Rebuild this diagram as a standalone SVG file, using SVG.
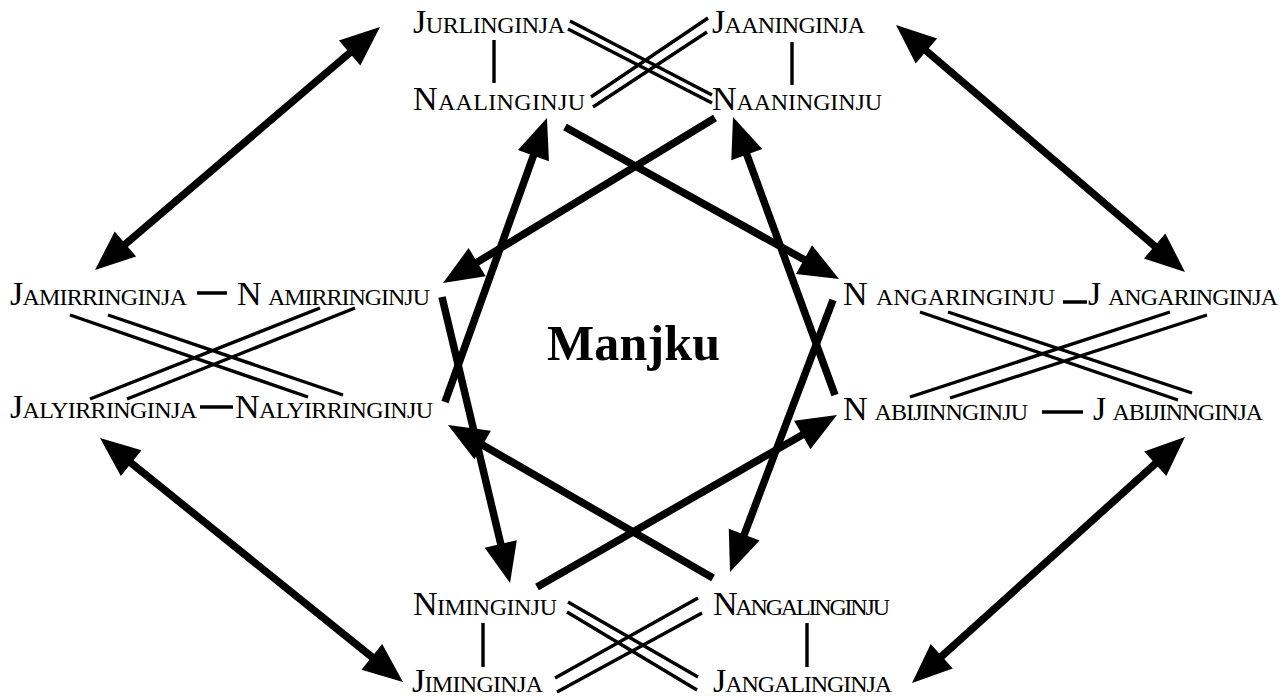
<svg xmlns="http://www.w3.org/2000/svg" width="1287" height="700" viewBox="0 0 1287 700">
<style>
.n{font-family:"Liberation Serif","Times New Roman",serif;font-size:34px;font-variant:small-caps;fill:#000}
.t{font-family:"Liberation Serif","Times New Roman",serif;font-size:50px;font-weight:bold;fill:#000}
.thin{stroke:#000;stroke-width:3.4;fill:none}
.arr{stroke:#000;stroke-width:7.5;fill:none;marker-end:url(#ah)}
.dbl{stroke:#000;stroke-width:7.5;fill:none;marker-start:url(#ah);marker-end:url(#ah)}
</style>
<defs>
<marker id="ah" markerUnits="userSpaceOnUse" markerWidth="40" markerHeight="33" refX="20" refY="16.5" orient="auto-start-reverse" overflow="visible">
<path d="M0,0 L40,16.5 L0,33 z" fill="#000"/>
</marker>
</defs>
<rect width="1287" height="700" fill="#fff"/>
<g id="connectors">
<path class="arr" d="M442,297 L505.4,563.5"/>
<path class="arr" d="M445,402 L540.2,136.8"/>
<path class="arr" d="M565,127 L821.5,269.3"/>
<path class="arr" d="M715,118 L460.1,272.6"/>
<path class="arr" d="M835,395 L739.9,135.8"/>
<path class="arr" d="M833,300 L737.1,553.3"/>
<path class="arr" d="M713,578 L465.3,435"/>
<path class="arr" d="M537,587 L819.6,425"/>
<path class="dbl" d="M110.2,257 L364.8,40"/>
<path class="dbl" d="M911.2,38 L1169.8,259"/>
<path class="dbl" d="M115.6,450.5 L387.4,669.5"/>
<path class="dbl" d="M1170.1,450.4 L926.9,669.6"/>
<path class="thin" d="M494,40 V83 M792,42 V85"/>
<path class="thin" d="M570,21 L712,95 M568,29 L712,103 M708,18 L591,97 M707,32 L593,107"/>
<path class="thin" d="M197,293 H227 M200,407 H233"/>
<path class="thin" d="M70,315 L308,397 M108,315 L343,395 M320,308 L90,399 M355,308 L127,399"/>
<path class="thin" d="M1063,302 H1087 M1042,412 H1083"/>
<path class="thin" d="M920,312 L1178,400 M948,312 L1192,393 M1170,312 L910,397 M1207,315 L950,398"/>
<path class="thin" d="M483,623 V667 M807,623 V667"/>
<path class="thin" d="M568,602 L698,677 M567,612 L697,690 M698,598 L555,678 M702,613 L557,692"/>
</g>
<g id="jurlinginja"><text class="n" x="413" y="33" textLength="152">Jurlinginja</text></g>
<g id="jaaninginja"><text class="n" x="712" y="33" textLength="153">Jaaninginja</text></g>
<g id="naalinginju"><text class="n" x="413" y="110" textLength="172">Naalinginju</text></g>
<g id="naaninginju"><text class="n" x="712" y="110" textLength="170">Naaninginju</text></g>
<g id="jamirringinja"><text class="n" x="10" y="305" textLength="177">Jamirringinja</text></g>
<g id="namirringinju"><text class="n" x="237" y="305" textLength="193">N amirringinju</text></g>
<g id="jalyirringinja"><text class="n" x="10" y="418" textLength="187">Jalyirringinja</text></g>
<g id="nalyirringinju"><text class="n" x="235" y="418" textLength="198">Nalyirringinju</text></g>
<g id="nangaringinju"><text class="n" x="843" y="305" textLength="212">N angaringinju</text></g>
<g id="jangaringinja"><text class="n" x="1088" y="305" textLength="190">J angaringinja</text></g>
<g id="nabijinnginju"><text class="n" x="843" y="420" textLength="185">N abijinnginju</text></g>
<g id="jabijinnginja"><text class="n" x="1093" y="420" textLength="170">J abijinnginja</text></g>
<g id="niminginju"><text class="n" x="413" y="615" textLength="144">Niminginju</text></g>
<g id="nangalinginju"><text class="n" x="713" y="615" textLength="177">Nangalinginju</text></g>
<g id="jiminginja"><text class="n" x="412" y="692" textLength="131">Jiminginja</text></g>
<g id="jangalinginja"><text class="n" x="713" y="692" textLength="179">Jangalinginja</text></g>
<g id="manjku"><text class="t" x="547" y="360" textLength="173">Manjku</text></g>
</svg>
